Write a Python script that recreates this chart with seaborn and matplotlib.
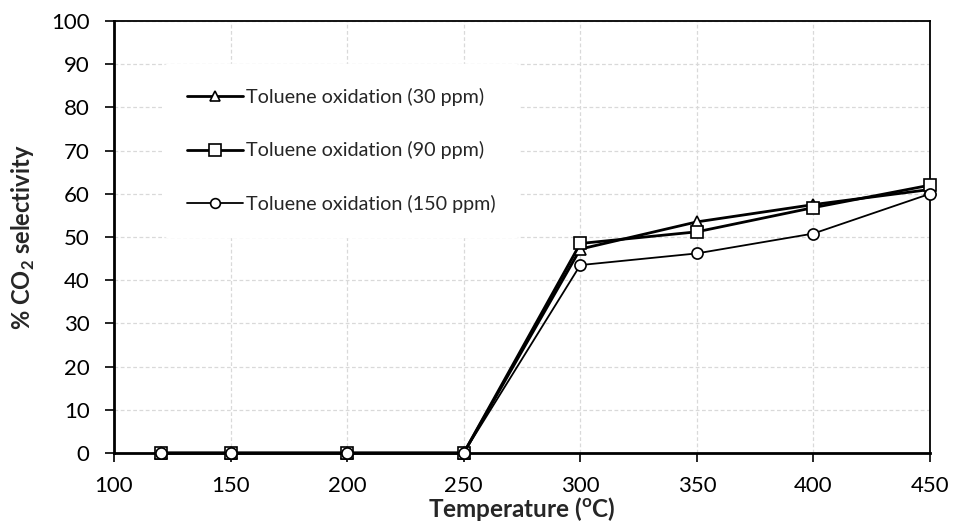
import matplotlib
matplotlib.use("Agg")
import matplotlib.pyplot as plt
import seaborn as sns
import pandas as pd
from matplotlib.lines import Line2D

temperature = [120, 150, 200, 250, 300, 350, 400, 450]
sel_30ppm = [0, 0, 0, 0, 47.2, 53.5, 57.5, 61.0]
sel_90ppm = [0, 0, 0, 0, 48.5, 51.2, 56.8, 62.0]
sel_150ppm = [0, 0, 0, 0, 43.5, 46.2, 50.8, 60.0]
labels = ["Toluene oxidation (30 ppm)", "Toluene oxidation (90 ppm)", "Toluene oxidation (150 ppm)"]
x_ticks = [100, 150, 200, 250, 300, 350, 400, 450]
y_ticks = list(range(0, 101, 10))

sns.set_theme(style="white")
plt.rcParams['font.family'] = ['Lato', 'DejaVu Sans']
plt.rcParams['mathtext.fontset'] = 'custom'
plt.rcParams['mathtext.rm'] = 'Lato'
plt.rcParams['mathtext.bf'] = 'Lato:bold'

fig = plt.figure(figsize=(9.55, 5.27), dpi=100)
ax = fig.add_axes([114/955, 1-453/527, (930-114)/955, (453-21)/527])

series = [
    (sel_30ppm, labels[0], '^', 8, 2.0),
    (sel_90ppm, labels[1], 's', 9, 2.0),
    (sel_150ppm, labels[2], 'o', 8, 1.3),
]
handles = []
for vals, lab, mk, ms, lw in series:
    df = pd.DataFrame({"T": temperature, "S": vals})
    sns.lineplot(data=df, x="T", y="S", ax=ax, color='black', lw=lw,
                 marker=mk, markersize=ms, markerfacecolor='white',
                 markeredgecolor='black', markeredgewidth=1.2, clip_on=False, zorder=3)
    handles.append(Line2D([], [], color='black', lw=lw, marker=mk, markersize=ms-1,
                          markerfacecolor='white', markeredgecolor='black', markeredgewidth=1.2))

ax.set_xlim(100, 450)
ax.set_ylim(0, 100)
ax.set_xticks(x_ticks)
ax.set_yticks(y_ticks)
ax.tick_params(axis='both', which='major', direction='out', length=6.5, width=1.2, pad=11,
               labelsize=16, color='black', labelcolor='black', bottom=True, left=True)
ax.tick_params(axis='x', pad=10)
ax.grid(True, color='#d9d9d9', linestyle=(0, (3, 2)), linewidth=0.9)
ax.set_axisbelow(True)
for side in ['left', 'bottom']:
    ax.spines[side].set_linewidth(2.0)
for side in ['top', 'right']:
    ax.spines[side].set_linewidth(1.3)
for sp in ax.spines.values():
    sp.set_color('black')

ax.set_xlabel(r'Temperature ($\mathbf{^{o}}$C)', fontsize=17.5, fontweight='bold', labelpad=-1)
ax.set_ylabel(r'% CO$_\mathbf{2}$ selectivity', fontsize=17, fontweight='bold', labelpad=10)

leg = ax.legend(handles=handles, labels=labels, loc='upper left', bbox_to_anchor=(0.061, 0.9),
                frameon=True, fontsize=14.2, handlelength=2.8, labelspacing=1.8,
                handletextpad=0.15, borderpad=1.2, borderaxespad=0)
leg.get_frame().set_facecolor('white')
leg.get_frame().set_edgecolor('white')
leg.get_frame().set_alpha(1)

fig.savefig('out.png', dpi=100)
